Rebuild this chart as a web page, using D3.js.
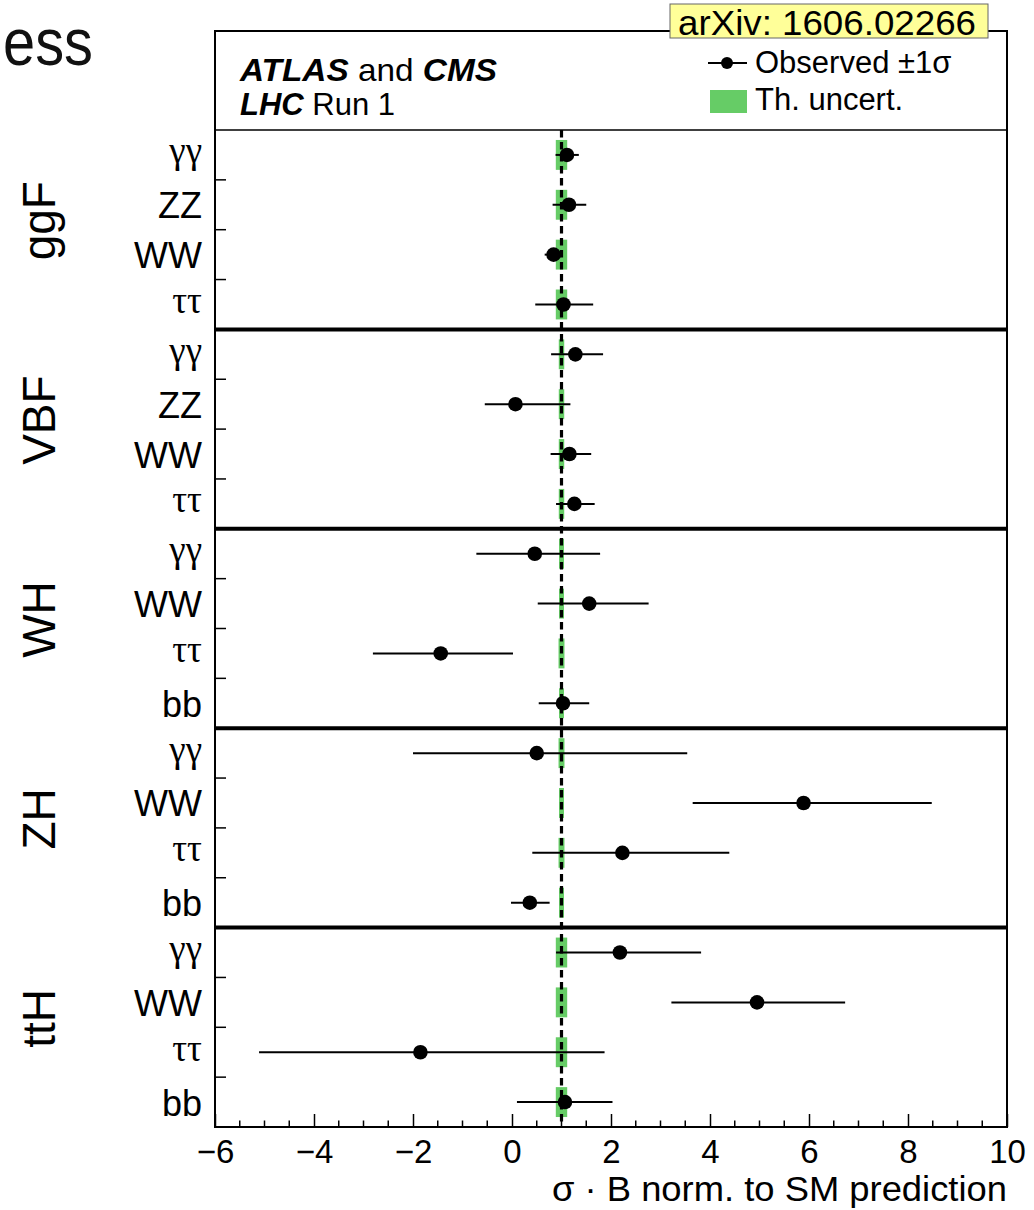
<!DOCTYPE html>
<html>
<head>
<meta charset="utf-8">
<script src="https://cdn.jsdelivr.net/npm/d3@7"></script>
<style>
  html, body { margin: 0; padding: 0; background: #fff; }
  svg { display: block; }
  text { font-family: "Liberation Sans", Arial, Helvetica, sans-serif; }
</style>
</head>
<body>
<svg id="chart" width="1034" height="1210"></svg>
<script>
// ---------------- data ----------------
const processLabels = ["ggF", "VBF", "WH", "ZH", "ttH"];
const channelLabels = [
  "γγ", "ZZ", "WW", "ττ",
  "γγ", "ZZ", "WW", "ττ",
  "γγ", "WW", "ττ", "bb",
  "γγ", "WW", "ττ", "bb",
  "γγ", "WW", "ττ", "bb"
];
const observed = [
  1.11, 1.15, 0.84, 1.04,
  1.28, 0.07, 1.16, 1.26,
  0.46, 1.56, -1.44, 1.03,
  0.50, 5.89, 2.23, 0.36,
  2.18, 4.95, -1.85, 1.07
];
const lower = [
  0.88, 0.82, 0.66, 0.47,
  0.79, -0.55, 0.78, 0.89,
  -0.72, 0.52, -2.81, 0.54,
  -2.00, 3.65, 0.41, -0.02,
  0.89, 3.22, -5.11, 0.10
];
const upper = [
  1.35, 1.50, 0.98, 1.64,
  1.84, 1.18, 1.60, 1.67,
  1.78, 2.76, 0.02, 1.56,
  3.54, 8.48, 4.39, 0.76,
  3.82, 6.73, 1.87, 2.03
];
const theoryUnc = [
  0.115, 0.115, 0.115, 0.115,
  0.055, 0.055, 0.055, 0.055,
  0.05, 0.05, 0.06, 0.05,
  0.06, 0.05, 0.06, 0.05,
  0.115, 0.115, 0.115, 0.115
];
const smValue = 1;
const xMajorTicks = [-6, -4, -2, 0, 2, 4, 6, 8, 10];
const xMinorStep = 0.5;
const rowsPerProcess = 4;

// ---------------- layout ----------------
const svg = d3.select("#chart");
const frame = { left: 215, right: 1007, top: 31, header: 130, bottom: 1127 };
const green = "#66cc66";

const x = d3.scaleLinear().domain([-6, 10]).range([frame.left, frame.right]);
const y = d3.scaleBand().domain(d3.range(channelLabels.length)).range([frame.header, frame.bottom]).padding(0);
const bw = y.bandwidth();
const rowCenter = i => y(i) + bw / 2;

// slide title fragment
svg.append("text").attr("x", 3).attr("y", 65)
  .attr("font-size", 66).attr("fill", "#111")
  .attr("textLength", 90).attr("lengthAdjust", "spacingAndGlyphs")
  .text("ess");

// theory uncertainty boxes
svg.append("g").selectAll("rect").data(theoryUnc).join("rect")
  .attr("x", d => x(smValue - d))
  .attr("width", d => x(smValue + d) - x(smValue - d))
  .attr("y", (d, i) => rowCenter(i) - bw * 0.3)
  .attr("height", bw * 0.6)
  .attr("fill", green);

// SM dashed line
svg.append("line")
  .attr("x1", x(smValue)).attr("x2", x(smValue))
  .attr("y1", frame.header).attr("y2", frame.bottom)
  .attr("stroke", "#000").attr("stroke-width", 3.2)
  .attr("stroke-dasharray", "7.5,4.5");

// error bars
svg.append("g").selectAll("line").data(observed).join("line")
  .attr("x1", (d, i) => x(lower[i])).attr("x2", (d, i) => x(upper[i]))
  .attr("y1", (d, i) => rowCenter(i)).attr("y2", (d, i) => rowCenter(i))
  .attr("stroke", "#000").attr("stroke-width", 2);

// points
svg.append("g").selectAll("circle").data(observed).join("circle")
  .attr("cx", d => x(d)).attr("cy", (d, i) => rowCenter(i))
  .attr("r", 7.3).attr("fill", "#000");

// frame
svg.append("rect")
  .attr("x", frame.left).attr("y", frame.top)
  .attr("width", frame.right - frame.left).attr("height", frame.bottom - frame.top)
  .attr("fill", "none").attr("stroke", "#000").attr("stroke-width", 2);
svg.append("line").attr("x1", frame.left).attr("x2", frame.right)
  .attr("y1", frame.header).attr("y2", frame.header)
  .attr("stroke", "#000").attr("stroke-width", 1.5);

// panel separators
const sepRows = d3.range(1, processLabels.length).map(p => p * rowsPerProcess);
svg.append("g").selectAll("line").data(sepRows).join("line")
  .attr("x1", frame.left).attr("x2", frame.right)
  .attr("y1", d => y(d)).attr("y2", d => y(d))
  .attr("stroke", "#000").attr("stroke-width", 4);

// y ticks between rows within panels
const yTickRows = d3.range(1, channelLabels.length).filter(i => i % rowsPerProcess !== 0);
svg.append("g").selectAll("line").data(yTickRows).join("line")
  .attr("x1", frame.left).attr("x2", frame.left + 11)
  .attr("y1", d => y(d)).attr("y2", d => y(d))
  .attr("stroke", "#000").attr("stroke-width", 1.5);

// channel labels
const isGreek = s => /[γτ]/.test(s);
svg.append("g").selectAll("text").data(channelLabels).join("text")
  .attr("x", 202)
  .attr("y", (d, i) => rowCenter(i) + (isGreek(d) ? 8.5 : 13.5))
  .attr("text-anchor", "end")
  .attr("font-size", d => isGreek(d) ? 37 : 36)
  .style("font-family", d => isGreek(d) ? "'Liberation Serif', 'Times New Roman', serif" : null)
  .text(d => d);

// process labels
svg.append("g").selectAll("text").data(processLabels).join("text")
  .attr("transform", (d, p) => {
    const cy = (y(p * rowsPerProcess) + y(p * rowsPerProcess + rowsPerProcess - 1) + bw) / 2 - 9;
    return `translate(55,${cy}) rotate(-90)`;
  })
  .attr("text-anchor", "middle")
  .attr("font-size", 46)
  .text(d => d);

// x axis
const xAxis = d3.axisBottom(x).tickValues(xMajorTicks)
  .tickSizeInner(-13).tickSizeOuter(0).tickPadding(13);
const gx = svg.append("g").attr("transform", `translate(0,${frame.bottom})`).call(xAxis);
gx.select(".domain").remove();
gx.selectAll(".tick line").attr("stroke-width", 1.5);
gx.selectAll(".tick text").attr("font-size", 33).attr("fill", "#000")
  .style("font-family", "'Liberation Sans', Arial, sans-serif");
const minorTicks = d3.range(-6, 10 + 1e-9, xMinorStep).filter(v => Math.abs(v / 2 - Math.round(v / 2)) > 1e-6);
svg.append("g").selectAll("line").data(minorTicks).join("line")
  .attr("x1", d => x(d)).attr("x2", d => x(d))
  .attr("y1", frame.bottom).attr("y2", frame.bottom - 6.5)
  .attr("stroke", "#000").attr("stroke-width", 1.5);

svg.append("text").attr("x", frame.right).attr("y", 1201)
  .attr("text-anchor", "end").attr("font-size", 35)
  .attr("textLength", 455).attr("lengthAdjust", "spacingAndGlyphs")
  .text("σ · B norm. to SM prediction");

// header text
const h1 = svg.append("text").attr("x", 240).attr("y", 81).attr("font-size", 32)
  .attr("textLength", 257).attr("lengthAdjust", "spacingAndGlyphs");
h1.append("tspan").attr("font-weight", "bold").attr("font-style", "italic").text("ATLAS");
h1.append("tspan").text(" and ");
h1.append("tspan").attr("font-weight", "bold").attr("font-style", "italic").text("CMS");
const h2 = svg.append("text").attr("x", 240).attr("y", 115).attr("font-size", 31);
h2.append("tspan").attr("font-weight", "bold").attr("font-style", "italic").text("LHC");
h2.append("tspan").text(" Run 1");

// legend
svg.append("line").attr("x1", 708).attr("x2", 747).attr("y1", 63).attr("y2", 63)
  .attr("stroke", "#000").attr("stroke-width", 2);
svg.append("circle").attr("cx", 727).attr("cy", 63).attr("r", 6).attr("fill", "#000");
svg.append("text").attr("x", 755).attr("y", 73).attr("font-size", 31).text("Observed ±1σ");
svg.append("rect").attr("x", 710).attr("y", 90).attr("width", 37).attr("height", 23).attr("fill", green);
svg.append("text").attr("x", 755).attr("y", 110).attr("font-size", 31).text("Th. uncert.");

// arXiv tag
svg.append("rect").attr("x", 670).attr("y", 4).attr("width", 318).attr("height", 34)
  .attr("fill", "#ffff99").attr("stroke", "#666").attr("stroke-width", 1);
svg.append("text").attr("x", 678).attr("y", 35).attr("font-size", 35)
  .attr("textLength", 298).attr("lengthAdjust", "spacingAndGlyphs")
  .text("arXiv: 1606.02266");
</script>
</body>
</html>
